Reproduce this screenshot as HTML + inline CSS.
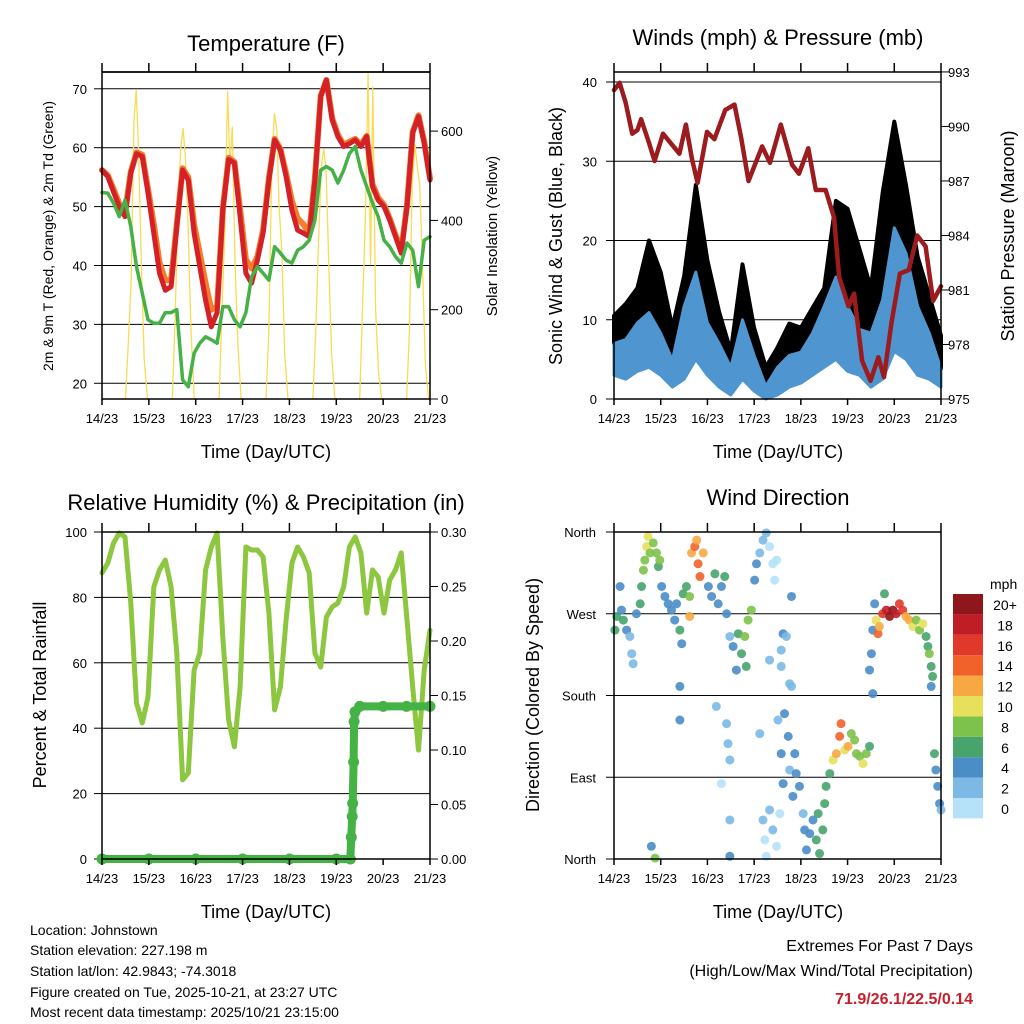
<!DOCTYPE html>
<html><head><meta charset="utf-8"><style>
body{margin:0;background:#fff}
svg{display:block;font-family:"Liberation Sans",Arial,sans-serif}
</style></head><body>
<svg id="chart" width="1024" height="1024" viewBox="0 0 1024 1024" xmlns="http://www.w3.org/2000/svg">
<rect width="1024" height="1024" fill="#fff"/>
<text x="266" y="51" font-size="22" text-anchor="middle">Temperature (F)</text>
<text x="778" y="45" font-size="22" text-anchor="middle">Winds (mph) &amp; Pressure (mb)</text>
<text x="266" y="510" font-size="22" text-anchor="middle">Relative Humidity (%) &amp; Precipitation (in)</text>
<text x="778" y="505" font-size="22" text-anchor="middle">Wind Direction</text>
<text x="266" y="458" font-size="18" text-anchor="middle">Time (Day/UTC)</text>
<text x="778" y="458" font-size="18" text-anchor="middle">Time (Day/UTC)</text>
<text x="266" y="918" font-size="18" text-anchor="middle">Time (Day/UTC)</text>
<text x="778" y="918" font-size="18" text-anchor="middle">Time (Day/UTC)</text>
<text transform="translate(53,236) rotate(-90)" font-size="14" text-anchor="middle">2m &amp; 9m T (Red, Orange) &amp; 2m Td (Green)</text>
<text transform="translate(497,236) rotate(-90)" font-size="15" text-anchor="middle">Solar Insolation (Yellow)</text>
<text transform="translate(562,236) rotate(-90)" font-size="18" text-anchor="middle">Sonic Wind &amp; Gust (Blue, Black)</text>
<text transform="translate(1014,236) rotate(-90)" font-size="18" text-anchor="middle">Station Pressure (Maroon)</text>
<text transform="translate(46,695) rotate(-90)" font-size="18" text-anchor="middle">Percent &amp; Total Rainfall</text>
<text transform="translate(539,695) rotate(-90)" font-size="18" text-anchor="middle">Direction (Colored By Speed)</text>
<g font-size="14">
<text x="30" y="935">Location: Johnstown</text>
<text x="30" y="955">Station elevation: 227.198 m</text>
<text x="30" y="976">Station lat/lon: 42.9843; -74.3018</text>
<text x="30" y="997">Figure created on Tue, 2025-10-21, at 23:27 UTC</text>
<text x="30" y="1017">Most recent data timestamp: 2025/10/21 23:15:00</text>
</g>
<text x="973" y="951" font-size="16" text-anchor="end">Extremes For Past 7 Days</text>
<text x="973" y="976" font-size="16" text-anchor="end">(High/Low/Max Wind/Total Precipitation)</text>
<text x="973" y="1004" font-size="16" font-weight="bold" fill="#c8202a" text-anchor="end">71.9/26.1/22.5/0.14</text>
<text x="990" y="589" font-size="14">mph</text>
</svg>
<script>
// ---------- DATA ----------
const dayLabels = ["14/23","15/23","16/23","17/23","18/23","19/23","20/23","21/23"];
const temp2m = [56.2,55.1,52.5,50,48.3,55.7,59,58.5,52.3,45.5,38.7,35.8,36.4,46.6,56.2,54.5,45.5,39.8,34.1,29.6,32,49.4,58,57.4,48.3,38.7,37,40.9,45.5,54.5,61.3,59.6,55.1,49.4,46,45.5,44.9,54.5,68.7,71.5,64.7,61.9,60.2,60.7,61.3,60.2,61.9,53.4,51.1,50,47.7,44.9,42.1,50,62.5,65.3,60.8,54.5];
const temp9m = [56.2,55.3,53,50.5,49,55.9,59.2,58.8,53,47,40.5,37.5,37.5,47,56.5,55,47,42,37,32.5,33,49.6,58.3,57.6,49.5,41,39.5,41.5,46,54.8,61.5,59.8,55.6,51,48,47,45.5,54.8,68.8,71.5,65,62.2,60.5,61,61.5,60.5,62,53.8,51.5,50.3,48,45.2,42.5,50.2,62.7,65.5,61,54.8];
const dewpt = [52.4,52.3,50.6,48.3,51.1,46.6,39.8,35.3,30.8,30.2,30.2,32,32,32.5,20.6,19.4,25.1,26.8,27.9,27.4,26.8,33,33,30.8,29.6,32,38.1,39.8,38.7,37.5,43.2,42.1,40.9,40.4,42.6,43.2,44.3,47.7,56.2,56.8,56.2,54,56.2,59,60.2,56.2,53.4,50.6,48.3,44.3,43.2,41.5,40.4,43.8,42.6,36.4,44.3,44.9];
const solarDayStart = [0,1,2,3,4,5,6];
const solarOffsets = [0.5,0.56,0.62,0.68,0.73,0.78,0.84,0.9,0.97];
const solarD0 = [0,120,260,620,692,560,300,90,0];
const solarD1 = [0,180,420,560,607,540,380,150,0];
const solarD2 = [0,200,380,690,520,610,300,120,0];
const solarD3 = [0,150,500,640,602,430,330,100,0];
const solarD4 = [0,150,350,520,560,520,300,100,0];
const solarD5 = [0,200,400,730,300,700,200,60,0];
const solarD6 = [0,150,480,570,520,480,300,80,0];
const gustHi = [10.5,12,14,20,16,9,15.5,27,17.5,11,6,17,9,4,6.5,9.5,9,11.5,14,25,24,19,14,26,35,27,18,13,8];
const windHi = [7,7.5,9.6,10.9,8.3,4.9,11.7,16,9.6,7,4,10,5.5,1.6,4,5.5,5.9,8.3,11.7,15.4,11.7,8.8,8.3,12.5,21.6,18.4,11.7,8.3,3.8];
const windLo = [3,2.5,3.5,4,3,1.5,2.5,5,3,1.5,0.5,2.5,1,0,0.5,1.5,2,3,4,5,3.5,3,1.5,2.5,6,5,3,2.5,1.5];
const pressTime = [0,.12,.25,.39,.5,.58,.75,.87,1.05,1.24,1.4,1.54,1.67,1.79,1.99,2.15,2.38,2.58,2.72,2.88,3.17,3.34,3.57,3.81,3.96,4.16,4.32,4.53,4.71,4.82,5.02,5.14,5.31,5.49,5.66,5.78,5.94,6.12,6.31,6.49,6.67,6.83,7.0];
const pressVal = [992,992.4,991.3,989.6,989.8,990.4,989.1,988.1,989.6,989,988.5,990.1,988.2,986.9,989.7,989.3,990.9,991.2,989.4,987,988.9,988,990.1,987.9,987.4,988.8,986.5,986.5,985,981.7,980.1,980.8,977.1,976,977.3,976.2,979.2,981.9,982.1,984,983.4,980.4,981.2];
const rh = [87.5,90.5,96.6,99.7,98.5,78.3,47.7,41.6,49.5,83.2,88.4,91.4,83.2,63,24.2,26.3,57.8,63,88.4,95.4,99.7,67.9,42.5,34.3,52.6,95.4,94.5,94.5,92.4,75.2,45.6,52.6,73.1,90.5,95.4,92.4,87.5,63,58.7,74,77.1,78.3,83.2,95.4,98.5,93.6,75.2,88.4,86.2,75.2,85.3,88.4,93.6,73.1,52.6,33.3,57.8,70];
const precipTime = [0,1,2,3,4,5,5.3,5.32,5.34,5.35,5.37,5.38,5.4,5.5,6,6.5,7];
const precipVal = [0,0,0,0,0,0,0,0.02,0.039,0.051,0.089,0.126,0.135,0.14,0.14,0.14,0.14];
const dirTime = [.02,.06,.13,.16,.2,.27,.34,.38,.41,.48,.56,.59,.63,.66,.7,.73,.77,.84,.91,.95,.98,1.02,1.09,1.16,1.23,1.3,1.34,1.41,1.45,1.48,1.55,1.62,1.66,1.73,1.77,1.8,1.84,1.91,1.62,2.02,2.09,2.16,2.23,2.3,2.37,2.41,2.48,2.55,2.62,2.66,2.73,2.8,2.83,2.87,2.94,3.01,3.05,3.12,3.19,3.26,3.33,3.4,3.44,3.48,1.41,1.41,2.19,2.41,2.44,2.48,2.3,2.48,2.48,.8,.88,3.12,3.19,3.23,3.26,3.33,3.4,3.48,3.55,3.51,3.58,3.62,3.65,3.73,3.76,3.8,3.83,3.87,3.9,3.97,4.05,4.08,4.12,4.19,4.26,4.33,4.37,4.4,4.47,4.51,4.54,4.62,4.69,4.76,4.83,4.86,4.94,5.01,5.08,5.15,5.19,5.26,5.33,5.4,5.47,3.33,3.58,3.62,3.69,3.58,3.76,3.8,5.47,5.51,5.54,5.54,5.58,5.61,5.65,5.68,5.75,5.83,5.9,5.97,6.04,6.11,6.18,6.25,6.32,6.4,6.47,6.54,6.61,6.68,6.72,6.75,6.79,6.82,6.79,6.86,6.89,6.93,6.97,7.0,5.79];
const dirDeg = [252,267,300,274,263,252,245,226,215,270,281,300,318,329,344,355,337,348,337,322,329,300,289,281,274,263,281,252,237,292,300,267,337,344,351,325,311,337,289,300,289,314,281,300,311,270,245,234,208,248,226,245,212,263,274,307,325,337,351,359,344,325,307,329,190,153,168,149,127,109,83,43,3,14,1,138,43,21,3,54,32,14,50,153,116,83,160,135,98,190,69,116,94,80,50,32,10,28,43,21,50,6,32,61,80,94,109,116,135,149,120,124,138,131,116,113,105,116,124,219,230,248,245,212,193,289,208,226,182,252,281,263,248,256,270,274,267,274,270,281,274,267,263,256,263,252,259,245,234,226,212,201,190,116,98,80,61,54,292];
const dirSpeed = [7,6,4,5,6,4,3,3,3,5,6,7,8,9,10,10,8,9,8,7,8,4,4,4,5,4,5,6,4,7,7,12,13,14,12,15,14,12,8,5,4,6,4,5,7,4,3,4,4,6,7,9,7,8,9,4,4,3,2,2,1,1,1,1,4,4,2,3,3,2,1,2,4,5,8,2,2,1,1,2,2,1,1,3,4,4,4,4,3,3,4,4,4,4,3,4,5,4,4,6,6,6,7,6,7,7,10,12,14,15,10,13,9,8,8,8,10,8,7,2,3,4,2,2,3,4,4,4,4,5,4,10,14,12,16,18,20,20,18,17,16,13,12,10,8,9,10,7,7,8,7,6,4,6,5,4,4,3,6];
const legendLabels = ["0","2","4","6","8","10","12","14","16","18","20+"];
const legendColors = ["#b5e2f8","#7cb9e4","#4a8dc7","#47a46d","#7dc24b","#e6e05a","#f8a843","#f0622a","#e0392b","#bf1e27","#8f161b"];

// ---------- SCALES ----------
const NS = "http://www.w3.org/2000/svg";
const svg = document.getElementById("chart");
function mk(tag, attrs, parent){ const e=document.createElementNS(NS,tag); for(const k in attrs) e.setAttribute(k,attrs[k]); (parent||svg).appendChild(e); return e; }
const xL = t => 102 + t*328/7;
const xR = t => 614 + t*327/7;
const yTemp = v => 383.3 - (v-20)*5.89;
const ySolar = v => 399 - v*0.4465;
const yWind = v => 399 - v*7.925;
const yPress = v => 399 - (v-975)*18.17;
const yRH = v => 859 - v*3.27;
const yPrecip = v => 859 - v*1090;
const yDir = d => 859 - d*327/360;
const even = (arr,i) => i*7/(arr.length-1);
function pathOf(xs, ys){ return xs.map((x,i)=>(i?"L":"M")+x.toFixed(1)+","+ys[i].toFixed(1)).join(""); }

function frame(x0,x1,y0,y1,name){
  const r = mk("rect",{x:x0,y:y0,width:x1-x0,height:y1-y0,fill:"none",stroke:"#000","stroke-width":1.5});
  
  
}
function xTicks(xf, yb, yt, name){
  dayLabels.forEach((lab,i)=>{
    const x = xf(i);
    const t1 = mk("line",{x1:x,x2:x,y1:yb,y2:yb+6,stroke:"#000","stroke-width":1.5});
    
    
    const t2 = mk("line",{x1:x,x2:x,y1:yt,y2:yt-9,stroke:"#000","stroke-width":1.5});
    
    
    const tx = mk("text",{x:x,y:yb+24,"font-size":13,"text-anchor":"middle"});
    tx.textContent = lab;
    
    
  });
}
function hGrid(vals, yf, x0, x1, labx, anchor, name, fmt){
  vals.forEach(v=>{
    const y = yf(v);
    const g = mk("line",{x1:x0,x2:x1,y1:y,y2:y,stroke:"#000","stroke-width":1});
    
    
    const tk = mk("line",{x1:x0-8,x2:x0,y1:y,y2:y,stroke:"#000","stroke-width":1});
    
    
    const t = mk("text",{x:labx,y:y+5,"font-size":13,"text-anchor":anchor});
    t.textContent = fmt ? fmt(v) : v;
    
    
  });
}
function sideLabels(vals, yf, xAxis, labx, name, fmt){
  vals.forEach(v=>{
    const y = yf(v);
    const tk = mk("line",{x1:xAxis,x2:xAxis+8,y1:y,y2:y,stroke:"#000","stroke-width":1});
    
    
    const t = mk("text",{x:labx,y:y+5,"font-size":13,"text-anchor":"start"});
    t.textContent = fmt ? fmt(v) : v;
    
    
  });
}

hGrid([20,30,40,50,60,70], yTemp, 102, 430, 87, "end", "temp-y");
sideLabels([0,200,400,600], ySolar, 430, 441, "solar-y");
const top1 = mk("line",{x1:102,x2:430,y1:72,y2:72,stroke:"#000","stroke-width":1.5});


hGrid([0,10,20,30,40], yWind, 614, 941, 597, "end", "wind-y");
sideLabels([975,978,981,984,987,990,993], yPress, 941, 948, "pressure-y");
hGrid([0,20,40,60,80,100], yRH, 102, 430, 87, "end", "rh-y");
sideLabels([0,0.05,0.1,0.15,0.2,0.25,0.3], yPrecip, 430, 441, "precip-y", v=>v.toFixed(2));
hGrid([0,90,180,270,360], yDir, 614, 941, 596, "end", "direction-y", v=>({0:"North",90:"East",180:"South",270:"West",360:"North"})[v]);

// ---------- PANEL 1 ----------
const solarDays = [solarD0,solarD1,solarD2,solarD3,solarD4,solarD5,solarD6];
solarDays.forEach((vals,d)=>{
  const xs = solarOffsets.map(o=>xL(solarDayStart[d]+o));
  const ys = vals.map(ySolar);
  const p = mk("path",{d:pathOf(xs,ys),fill:"none",stroke:"#f7dc55","stroke-width":1.3});
  
  
});
const p9 = mk("path",{d:pathOf(temp9m.map((v,i)=>xL(even(temp9m,i))),temp9m.map(yTemp)),fill:"none",stroke:"#f47c2a","stroke-width":6,"stroke-linejoin":"round","stroke-linecap":"round"});


const p2 = mk("path",{d:pathOf(temp2m.map((v,i)=>xL(even(temp2m,i))),temp2m.map(yTemp)),fill:"none",stroke:"#d42027","stroke-width":5,"stroke-linejoin":"round","stroke-linecap":"round"});


const pd = mk("path",{d:pathOf(dewpt.map((v,i)=>xL(even(dewpt,i))),dewpt.map(yTemp)),fill:"none",stroke:"#46b146","stroke-width":3.5,"stroke-linejoin":"round","stroke-linecap":"round"});



// ---------- PANEL 2 ----------
function band(hi, lo, xf, yf){
  const xs = hi.map((v,i)=>xf(even(hi,i)));
  let d = pathOf(xs, hi.map(yf));
  for(let i=lo.length-1;i>=0;i--) d += "L"+xs[i].toFixed(1)+","+yf(lo[i]).toFixed(1);
  return d+"Z";
}
const gb = mk("path",{d:band(gustHi,windHi,xR,yWind),fill:"#000",stroke:"#000","stroke-width":4,"stroke-linejoin":"round"});


const wb = mk("path",{d:band(windHi,windLo,xR,yWind),fill:"#4f95cf",stroke:"#4f95cf","stroke-width":3,"stroke-linejoin":"round"});


const pp = mk("path",{d:pathOf(pressTime.map(xR),pressVal.map(yPress)),fill:"none",stroke:"#9b1b1e","stroke-width":4.5,"stroke-linejoin":"round","stroke-linecap":"round"});



// ---------- PANEL 3 ----------
const prh = mk("path",{d:pathOf(rh.map((v,i)=>xL(even(rh,i))),rh.map(yRH)),fill:"none",stroke:"#8dc63f","stroke-width":5,"stroke-linejoin":"round","stroke-linecap":"round"});


const ppr = mk("path",{d:pathOf(precipTime.map(xL),precipVal.map(yPrecip)),fill:"none",stroke:"#44b245","stroke-width":8,"stroke-linecap":"round"});


precipTime.forEach((t,i)=>{
  const c = mk("circle",{cx:xL(t),cy:yPrecip(precipVal[i]),r:5.5,fill:"#44b245"});
  
  
});

// ---------- PANEL 4 ----------
dirTime.forEach((t,i)=>{
  const ci = Math.min(10, Math.floor(dirSpeed[i]/2));
  const c = mk("circle",{cx:xR(t),cy:yDir(dirDeg[i]),r:4.5,fill:legendColors[ci],"fill-opacity":0.9});
  
  
});
legendLabels.forEach((lab,i)=>{
  const y = 798 - i*20.4;
  const r = mk("rect",{x:953,y:y,width:30,height:20.4,fill:legendColors[i]});
  
  
  const t = mk("text",{x:1005,y:y+16,"font-size":14,"text-anchor":"middle"});
  t.textContent = lab;
  
  
});

frame(102,430,72,399,"temperature-plot-area");
frame(614,941,72,399,"winds-plot-area");
frame(102,430,532,859,"humidity-plot-area");
frame(614,941,532,859,"direction-plot-area");
xTicks(xL,399,72,"temp-x");
xTicks(xR,399,72,"winds-x");
xTicks(xL,859,532,"rh-x");
xTicks(xR,859,532,"direction-x");
</script>
</body></html>
